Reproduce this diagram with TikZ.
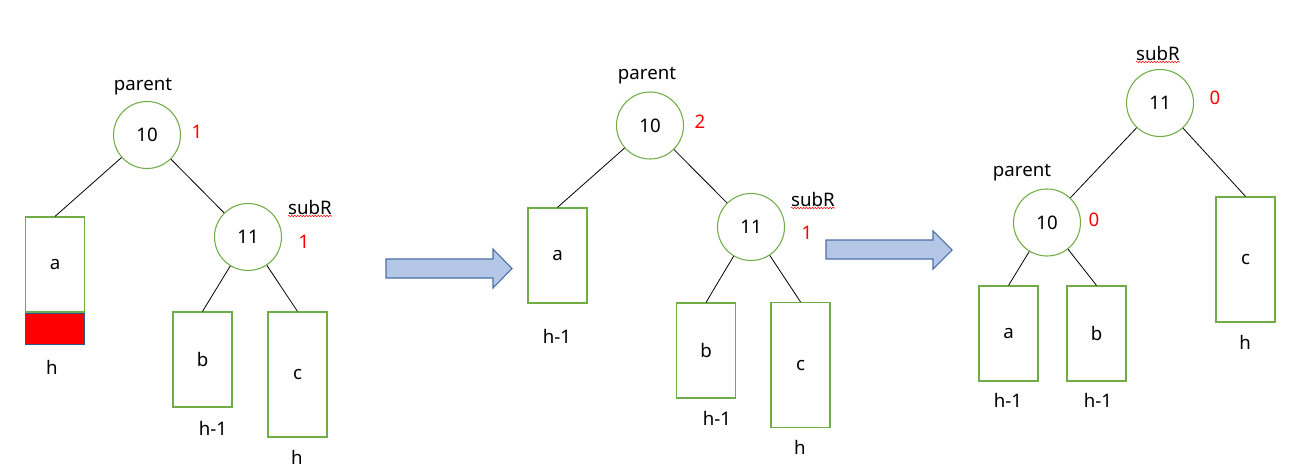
\documentclass[tikz,border=0pt]{standalone}
\usepackage{fontspec}
\setmainfont{Noto Sans}
\usetikzlibrary{decorations.pathmorphing}
\definecolor{tgreen}{HTML}{70AD47}
\definecolor{tred}{HTML}{FF0000}
\definecolor{afill}{HTML}{B4C7E7}
\definecolor{aedge}{HTML}{4A6FA8}
\definecolor{rborder}{HTML}{2F5597}
\begin{document}
\begin{tikzpicture}[x=0.75pt,y=-0.75pt, font=\fontsize{14}{17}\selectfont,
  circ/.style={circle, draw=tgreen, line width=0.8pt, minimum size=50.25pt, inner sep=0pt},
  tbox/.style={rectangle, draw=tgreen, line width=0.9pt, minimum width=44.25pt, inner sep=0pt},
  hshort/.style={minimum height=71.25pt},
  htall/.style={minimum height=93.75pt},
  lbl/.style={inner sep=0pt},
  bal/.style={text=tred, inner sep=0pt},
  edge/.style={draw=black, line width=0.6pt},
  wavy/.style={draw=tred, line width=0.4pt, decorate, decoration={snake, amplitude=0.5pt, segment length=2.2pt}},
  bigarrow/.style={fill=afill, draw=aedge, line width=0.8pt}]
\useasboundingbox (0,0) rectangle (1301,468);

% ---------- left tree ----------
\node[circ] (L10) at (147,135) {10};
\node[circ] (L11) at (248,237) {11};
\node[lbl] (Lpar) at (143,87) {parent};
\node[bal] (Lb10) at (197,132) {1};
\node[lbl] (LsubR) at (310,207) {subR};
\node[bal] (Lb11) at (304,242) {1};
\node[tbox, hshort] (La) at (55,264.5) {a};
\node[rectangle, fill=tred, draw=rborder, line width=0.9pt, minimum width=44.25pt, minimum height=23.25pt, inner sep=0pt, anchor=north] (Lred) at (La.south) {};
\node[lbl] (Lha) at (52,367) {h};
\node[tbox, hshort] (Lb) at (202.5,359.5) {b};
\node[lbl] (Lhb) at (213,428) {h-1};
\node[tbox, htall] (Lc) at (297.5,374.5) {c};
\node[lbl] (Lhc) at (297,457) {h};
\draw[edge] (L10) -- (La.north);
\draw[edge] (L10) -- (L11);
\draw[edge] (L11) -- (Lb.north);
\draw[edge] (L11) -- (Lc.north);
\draw[wavy] ([yshift=-1.5pt]LsubR.base west) -- ([yshift=-1.5pt]LsubR.base east);

% ---------- arrow 1 ----------
\draw[bigarrow] (386,259) -- (493,259) -- (493,249) -- (512,268.5) -- (493,288) -- (493,278) -- (386,278) -- cycle;

% ---------- middle tree ----------
\node[circ] (M10) at (650,125.5) {10};
\node[circ] (M11) at (751,227) {11};
\node[lbl] (Mpar) at (647,76) {parent};
\node[bal] (Mb10) at (700,122) {2};
\node[lbl] (MsubR) at (813,199) {subR};
\node[bal] (Mb11) at (807,233) {1};
\node[tbox, hshort] (Ma) at (557.5,255.5) {a};
\node[lbl] (Mha) at (557,336) {h-1};
\node[tbox, hshort] (Mb) at (706,350.5) {b};
\node[lbl] (Mhb) at (717,418) {h-1};
\node[tbox, htall] (Mc) at (800.5,365) {c};
\node[lbl] (Mhc) at (800,447) {h};
\draw[edge] (M10) -- (Ma.north);
\draw[edge] (M10) -- (M11);
\draw[edge] (M11) -- (Mb.north);
\draw[edge] (M11) -- (Mc.north);
\draw[wavy] ([yshift=-1.5pt]MsubR.base west) -- ([yshift=-1.5pt]MsubR.base east);

% ---------- arrow 2 ----------
\draw[bigarrow] (826,240) -- (933,240) -- (933,231) -- (952,250) -- (933,269) -- (933,259) -- (826,259) -- cycle;

% ---------- right tree ----------
\node[circ] (R11) at (1160,103) {11};
\node[circ] (R10) at (1047,222.5) {10};
\node[lbl] (RsubR) at (1158,53) {subR};
\node[bal] (Rb11) at (1215,98) {0};
\node[lbl] (Rpar) at (1022,173) {parent};
\node[bal] (Rb10) at (1094,220) {0};
\node[tbox, hshort] (Ra) at (1008.5,333.5) {a};
\node[lbl] (Rha) at (1008,400) {h-1};
\node[tbox, hshort] (Rb) at (1096.5,333.5) {b};
\node[lbl] (Rhb) at (1098,400) {h-1};
\node[tbox, htall] (Rc) at (1245.5,259.5) {c};
\node[lbl] (Rhc) at (1245,342) {h};
\draw[edge] (R11) -- (R10);
\draw[edge] (R11) -- (Rc.north);
\draw[edge] (R10) -- (Ra.north);
\draw[edge] (R10) -- (Rb.north);
\draw[wavy] ([yshift=-1.5pt]RsubR.base west) -- ([yshift=-1.5pt]RsubR.base east);
\end{tikzpicture}
\end{document}
